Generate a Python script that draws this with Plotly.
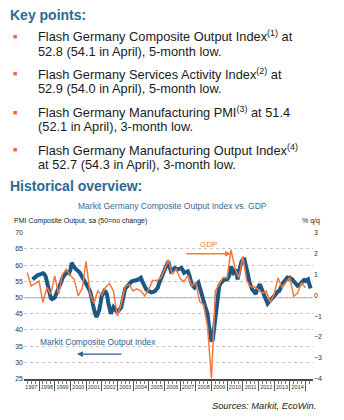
import plotly.graph_objects as go
import pandas as pd

W, H = 344, 420

# Markit Germany Composite Output Index, monthly, sa (50 = no change)
pmi_start = "1997-08-01"
pmi_values = [
    55.6, 56.0, 56.3, 56.6, 56.9,
    57.0, 57.2, 57.3, 57.5, 57.2, 56.6, 55.0, 53.0, 52.1, 49.8, 49.5, 49.7,
    50.0, 51.0, 51.8, 52.6, 53.4, 54.8, 56.0, 56.5, 57.2, 58.0, 57.8, 57.5,
    58.5, 60.7, 60.0, 59.2, 58.8, 58.5, 58.2, 57.8, 57.0, 56.2, 55.4, 54.5,
    54.0, 53.5, 52.8, 52.0, 50.5, 48.0, 46.5, 45.0, 44.0, 45.0, 46.0, 48.0,
    50.6, 51.2, 52.0, 51.8, 51.0, 48.5, 47.0, 45.0, 46.0, 47.0, 46.5, 46.0,
    45.5, 46.0, 46.5, 47.0, 49.0, 52.0, 52.8, 53.2, 53.6, 54.2, 54.8, 55.0,
    55.1, 55.1, 55.2, 55.4, 55.6, 55.8, 56.1, 55.0, 54.0, 53.1, 52.6, 52.1,
    52.1, 51.8, 51.6, 51.6, 51.8, 52.1, 52.5, 53.1, 54.5, 55.5, 56.1, 57.5,
    58.6, 59.8, 60.5, 61.2, 59.5, 58.1, 58.4, 58.8, 59.1, 58.9, 58.6, 58.8,
    59.0, 59.1, 58.5, 57.6, 57.8, 58.0, 58.1, 57.0, 55.1, 54.0, 53.5, 53.1,
    53.8, 54.3, 54.6, 53.2, 52.1, 50.8, 49.0, 47.5, 46.0, 45.0, 41.5, 38.5,
    36.5, 37.0, 40.0, 44.0, 48.0, 51.0, 53.6, 54.3, 55.1, 55.3, 55.5, 55.6,
    55.6, 56.3, 57.1, 59.6, 58.2, 57.6, 58.0, 58.6, 55.6, 58.1, 59.5, 61.1,
    61.6, 62.2, 60.5, 59.1, 57.1, 55.0, 53.1, 52.6, 52.1, 51.6, 51.1, 52.5,
    53.5, 54.1, 53.2, 52.1, 50.8, 49.6, 49.1, 48.1, 48.6, 49.1, 49.5, 50.1,
    50.8, 51.2, 51.6, 51.9, 52.1, 53.0, 54.1, 54.6, 55.1, 55.6, 56.1, 55.8,
    56.1, 55.8, 55.6, 55.0, 54.6, 54.2, 53.6, 53.8, 54.1, 54.6, 55.1, 55.4,
    55.1, 55.6, 55.6, 54.1, 52.8,
]

# German GDP, % q/q, quarterly (from Q2 1997)
gdp_start = "1997-04-01"
gdp_values = [
    1.08, 0.44, 0.55,
    0.68, -0.34, 0.37, 0.05,
    0.92, 0.05, 1.00, 1.23,
    0.95, 0.75, -0.03, 0.32,
    1.62, 0.10, -0.40, 0.20,
    0.00, 0.40, 0.55, 0.20,
    -1.00, -0.42, 0.44, 0.52,
    0.20, 0.30, 0.20, -0.03,
    0.29, 0.70, 0.70, 0.80,
    1.20, 1.70, 1.00, 1.25,
    0.80, 0.65, 0.95, 0.44,
    0.60, -0.30, -0.45, -1.50,
    -4.00, 0.20, 0.55, 0.85,
    0.84, 2.17, 1.31, 0.84,
    1.86, 0.70, 0.40, 0.40,
    0.25, 0.10, 0.20, -0.34,
    0.05, 0.84, 0.37, 0.60,
    0.85, -0.05, 0.10, 0.60,
    0.35,
]

pmi_dates = pd.date_range(pmi_start, periods=len(pmi_values), freq="MS")
gdp_dates = pd.date_range(gdp_start, periods=len(gdp_values), freq="QS")

left_ticks = [25, 30, 35, 40, 45, 50, 55, 60, 65, 70]
right_ticks = [-4, -3, -2, -1, 0, 1, 2, 3]

BLUE = "#1d5784"
ORANGE = "#f47a3c"
HEAD = "#2b6a92"
TEXT = "#1a1a1a"
FONT = "Liberation Sans, Arial, sans-serif"


def px(x):
    return x / W


def py(y):
    return 1 - y / H


fig = go.Figure()
fig.add_trace(go.Scatter(
    x=pmi_dates, y=pmi_values, mode="lines", yaxis="y",
    line=dict(color=BLUE, width=4), showlegend=False,
))
fig.add_trace(go.Scatter(
    x=gdp_dates, y=gdp_values, mode="lines", yaxis="y2",
    line=dict(color=ORANGE, width=1.5), showlegend=False,
))

dom_x = [px(24), px(313)]
dom_y = [py(381), py(232.5)]

fig.update_layout(
    width=W, height=H,
    margin=dict(l=0, r=0, t=0, b=0),
    paper_bgcolor="white", plot_bgcolor="white",
    font=dict(family=FONT, color=TEXT),
    xaxis=dict(
        type="date", domain=dom_x,
        range=["1997-01-15", "2015-06-25"],
        tick0="1997-01-01", dtick="M12", ticklabelmode="period",
        tickformat="%Y", ticks="outside", ticklen=11, tickwidth=1,
        tickcolor="#555555", ticklabelstandoff=-9,
        tickfont=dict(size=5.5, color="#333333"),
        minor=dict(dtick="M3", ticks="outside", ticklen=4,
                   tickcolor="#777777", tickwidth=0.8),
        showline=True, linecolor="#444444", linewidth=1.5,
        showgrid=False, zeroline=False,
    ),
    yaxis=dict(
        domain=dom_y, range=[25, 70], tickvals=left_ticks,
        tickfont=dict(size=7, color="#333333"), ticks="",
        showgrid=True, gridcolor="#c4c4c4", griddash="dot", gridwidth=1,
        zeroline=False, showline=False,
    ),
    yaxis2=dict(
        overlaying="y", side="right", range=[-4, 3], tickvals=right_ticks,
        tickfont=dict(size=7, color="#333333"), ticks="",
        showgrid=False, zeroline=False, showline=False, anchor="x",
    ),
    shapes=[
        dict(type="line", xref="paper", yref="y", x0=dom_x[0], x1=dom_x[1],
             y0=50, y1=50, line=dict(color="#b5b5b5", width=1.3), layer="below"),
    ],
)

ann = []


def text(x, y, s, size, color=TEXT, anchor="left", bold=False, italic=False):
    if bold:
        s = "<b>" + s + "</b>"
    if italic:
        s = "<i>" + s + "</i>"
    ann.append(dict(x=px(x), y=py(y), xref="paper", yref="paper", text=s,
                    showarrow=False, xanchor=anchor, yanchor="middle",
                    font=dict(size=size, color=color, family=FONT)))


text(8, 11, "Key points:", 14, HEAD, bold=True)

bullets = [
    ("Flash Germany Composite Output Index<sup>(1)</sup> at",
     "52.8 (54.1 in April), 5-month low."),
    ("Flash Germany Services Activity Index<sup>(2)</sup> at",
     "52.9 (54.0 in April), 5-month low."),
    ("Flash Germany Manufacturing PMI<sup>(3)</sup> at 51.4",
     "(52.1 in April), 3-month low."),
    ("Flash Germany Manufacturing Output Index<sup>(4)</sup>",
     "at 52.7 (54.3 in April), 3-month low."),
]
line1_y = [33, 71, 110, 148]
for (l1, l2), y in zip(bullets, line1_y):
    text(11, y, "■", 7, "#f26522")
    text(36, y, l1, 12.8)
    text(36, y + 14.8, l2, 12.8)

text(8, 185, "Historical overview:", 14, HEAD, bold=True)
text(172, 205, "Markit Germany Composite Output Index vs. GDP", 8.5, "#3a6896",
     anchor="center")
text(12, 221, "PMI Composite Output, sa (50=no change)", 7, "#222222")
text(322, 221, "% q/q", 7, "#222222", anchor="right")
text(318, 409, "Sources: Markit, EcoWin.", 9.3, "#222222", anchor="right",
     italic=True)

# series labels with pointer arrows
text(208, 245, "GDP", 8, ORANGE, anchor="center")
text(98, 344, "Markit Composite Output Index", 8.4, "#2f6391", anchor="center")
ann.append(dict(x=px(231), y=py(254), xref="paper", yref="paper",
                ax=-46, ay=0, axref="pixel", ayref="pixel",
                showarrow=True, arrowhead=2, arrowsize=0.9, arrowwidth=1.3,
                arrowcolor=ORANGE, text=""))
ann.append(dict(x=px(77), y=py(356), xref="paper", yref="paper",
                ax=46, ay=0, axref="pixel", ayref="pixel",
                showarrow=True, arrowhead=2, arrowsize=0.9, arrowwidth=1.3,
                arrowcolor="#2f6391", text=""))

fig.update_layout(annotations=ann)
fig.write_html("out.html")
